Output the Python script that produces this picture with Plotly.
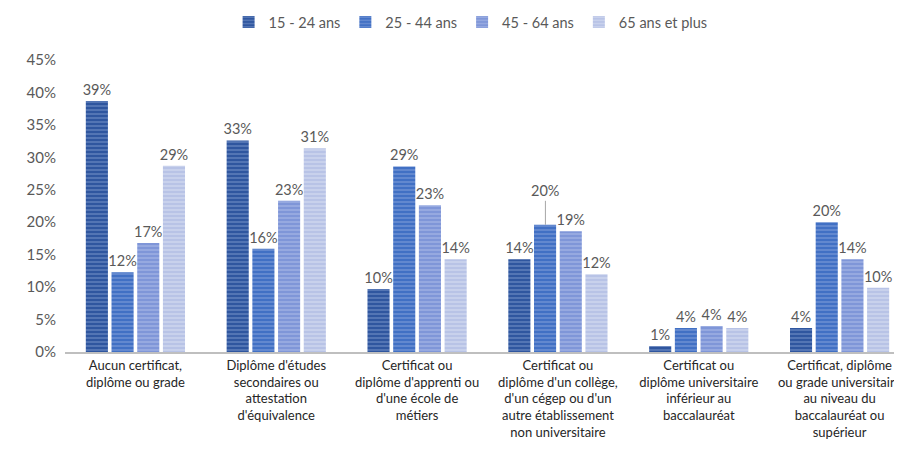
import plotly.graph_objects as go

categories = [
    "Aucun certificat,<br>diplôme ou grade",
    "Diplôme d'études<br>secondaires ou<br>attestation<br>d'équivalence",
    "Certificat ou<br>diplôme d'apprenti ou<br>d'une école de<br>métiers",
    "Certificat ou<br>diplôme d'un collège,<br>d'un cégep ou d'un<br>autre établissement<br>non universitaire",
    "Certificat ou<br>diplôme universitaire<br>inférieur au<br>baccalauréat",
    "Certificat, diplôme<br>ou grade universitaire<br>au niveau du<br>baccalauréat ou<br>supérieur",
]
series_names = ["15 - 24 ans", "25 - 44 ans", "45 - 64 ans", "65 ans et plus"]
v_15_24 = [38.7, 32.6, 9.7, 14.3, 0.9, 3.7]
v_25_44 = [12.3, 15.9, 28.6, 19.6, 3.7, 20.0]
v_45_64 = [16.8, 23.3, 22.6, 18.6, 4.0, 14.3]
v_65 = [28.7, 31.4, 14.3, 12.0, 3.7, 9.9]
values = [v_15_24, v_25_44, v_45_64, v_65]
colors = ["#2f569f", "#4170c4", "#7f96d8", "#b8c3e6"]
stripe = ["#8aa2d4", "#94acdf", "#b9c7ec", "#e2e7f5"]

FONT = "Lato, Calibri, Carlito, sans-serif"
GRAY = "#595959"

fig = go.Figure()
for i, (name, vals) in enumerate(zip(series_names, values)):
    texts = [f"{round(v):.0f}%" for v in vals]
    if i == 1:
        texts[3] = ""  # drawn with a leader line below
    fig.add_trace(go.Bar(
        x=categories, y=vals, name=name,
        marker=dict(color=colors[i], line=dict(width=0),
                    pattern=dict(shape="-", fgcolor=stripe[i], bgcolor=colors[i],
                                 size=4, solidity=0.4)),
        text=texts, textposition="outside", cliponaxis=False,
        constraintext="none",
        textfont=dict(family=FONT, size=14.5, color=GRAY),
        hoverinfo="x+y",
    ))

# leader-line label for the 25-44 bar of the 4th group
fig.add_annotation(
    x=categories[3], y=v_25_44[3], xref="x", yref="y",
    text=f"{round(v_25_44[3]):.0f}%", showarrow=True, arrowhead=0,
    arrowcolor="#a6a6a6", arrowwidth=1, ax=0, ay=-34, xshift=-12.5,
    font=dict(family=FONT, size=14.5, color=GRAY),
)

fig.update_layout(
    width=902, height=455,
    margin=dict(l=57, r=0, t=52, b=111, autoexpand=False),
    plot_bgcolor="white", paper_bgcolor="white",
    barmode="group", bargap=0.27, bargroupgap=0.14,
    font=dict(family=FONT, size=14, color=GRAY),
    legend=dict(orientation="h", x=0.48, xanchor="center", y=1.13, yref="paper",
                yanchor="middle", font=dict(family=FONT, size=14.5, color=GRAY),
                itemwidth=30, traceorder="normal"),
    showlegend=True,
)
fig.update_yaxes(range=[0, 45], dtick=5, ticksuffix="%", showgrid=False,
                 zeroline=False, showline=False, ticklabelstandoff=8,
                 tickfont=dict(family=FONT, size=15, color=GRAY))
fig.update_xaxes(showline=True, linecolor="#bfbfbf", linewidth=2,
                 ticks="",
                 tickfont=dict(family=FONT, size=13, color="#262626"))

fig.write_html("out.html")
